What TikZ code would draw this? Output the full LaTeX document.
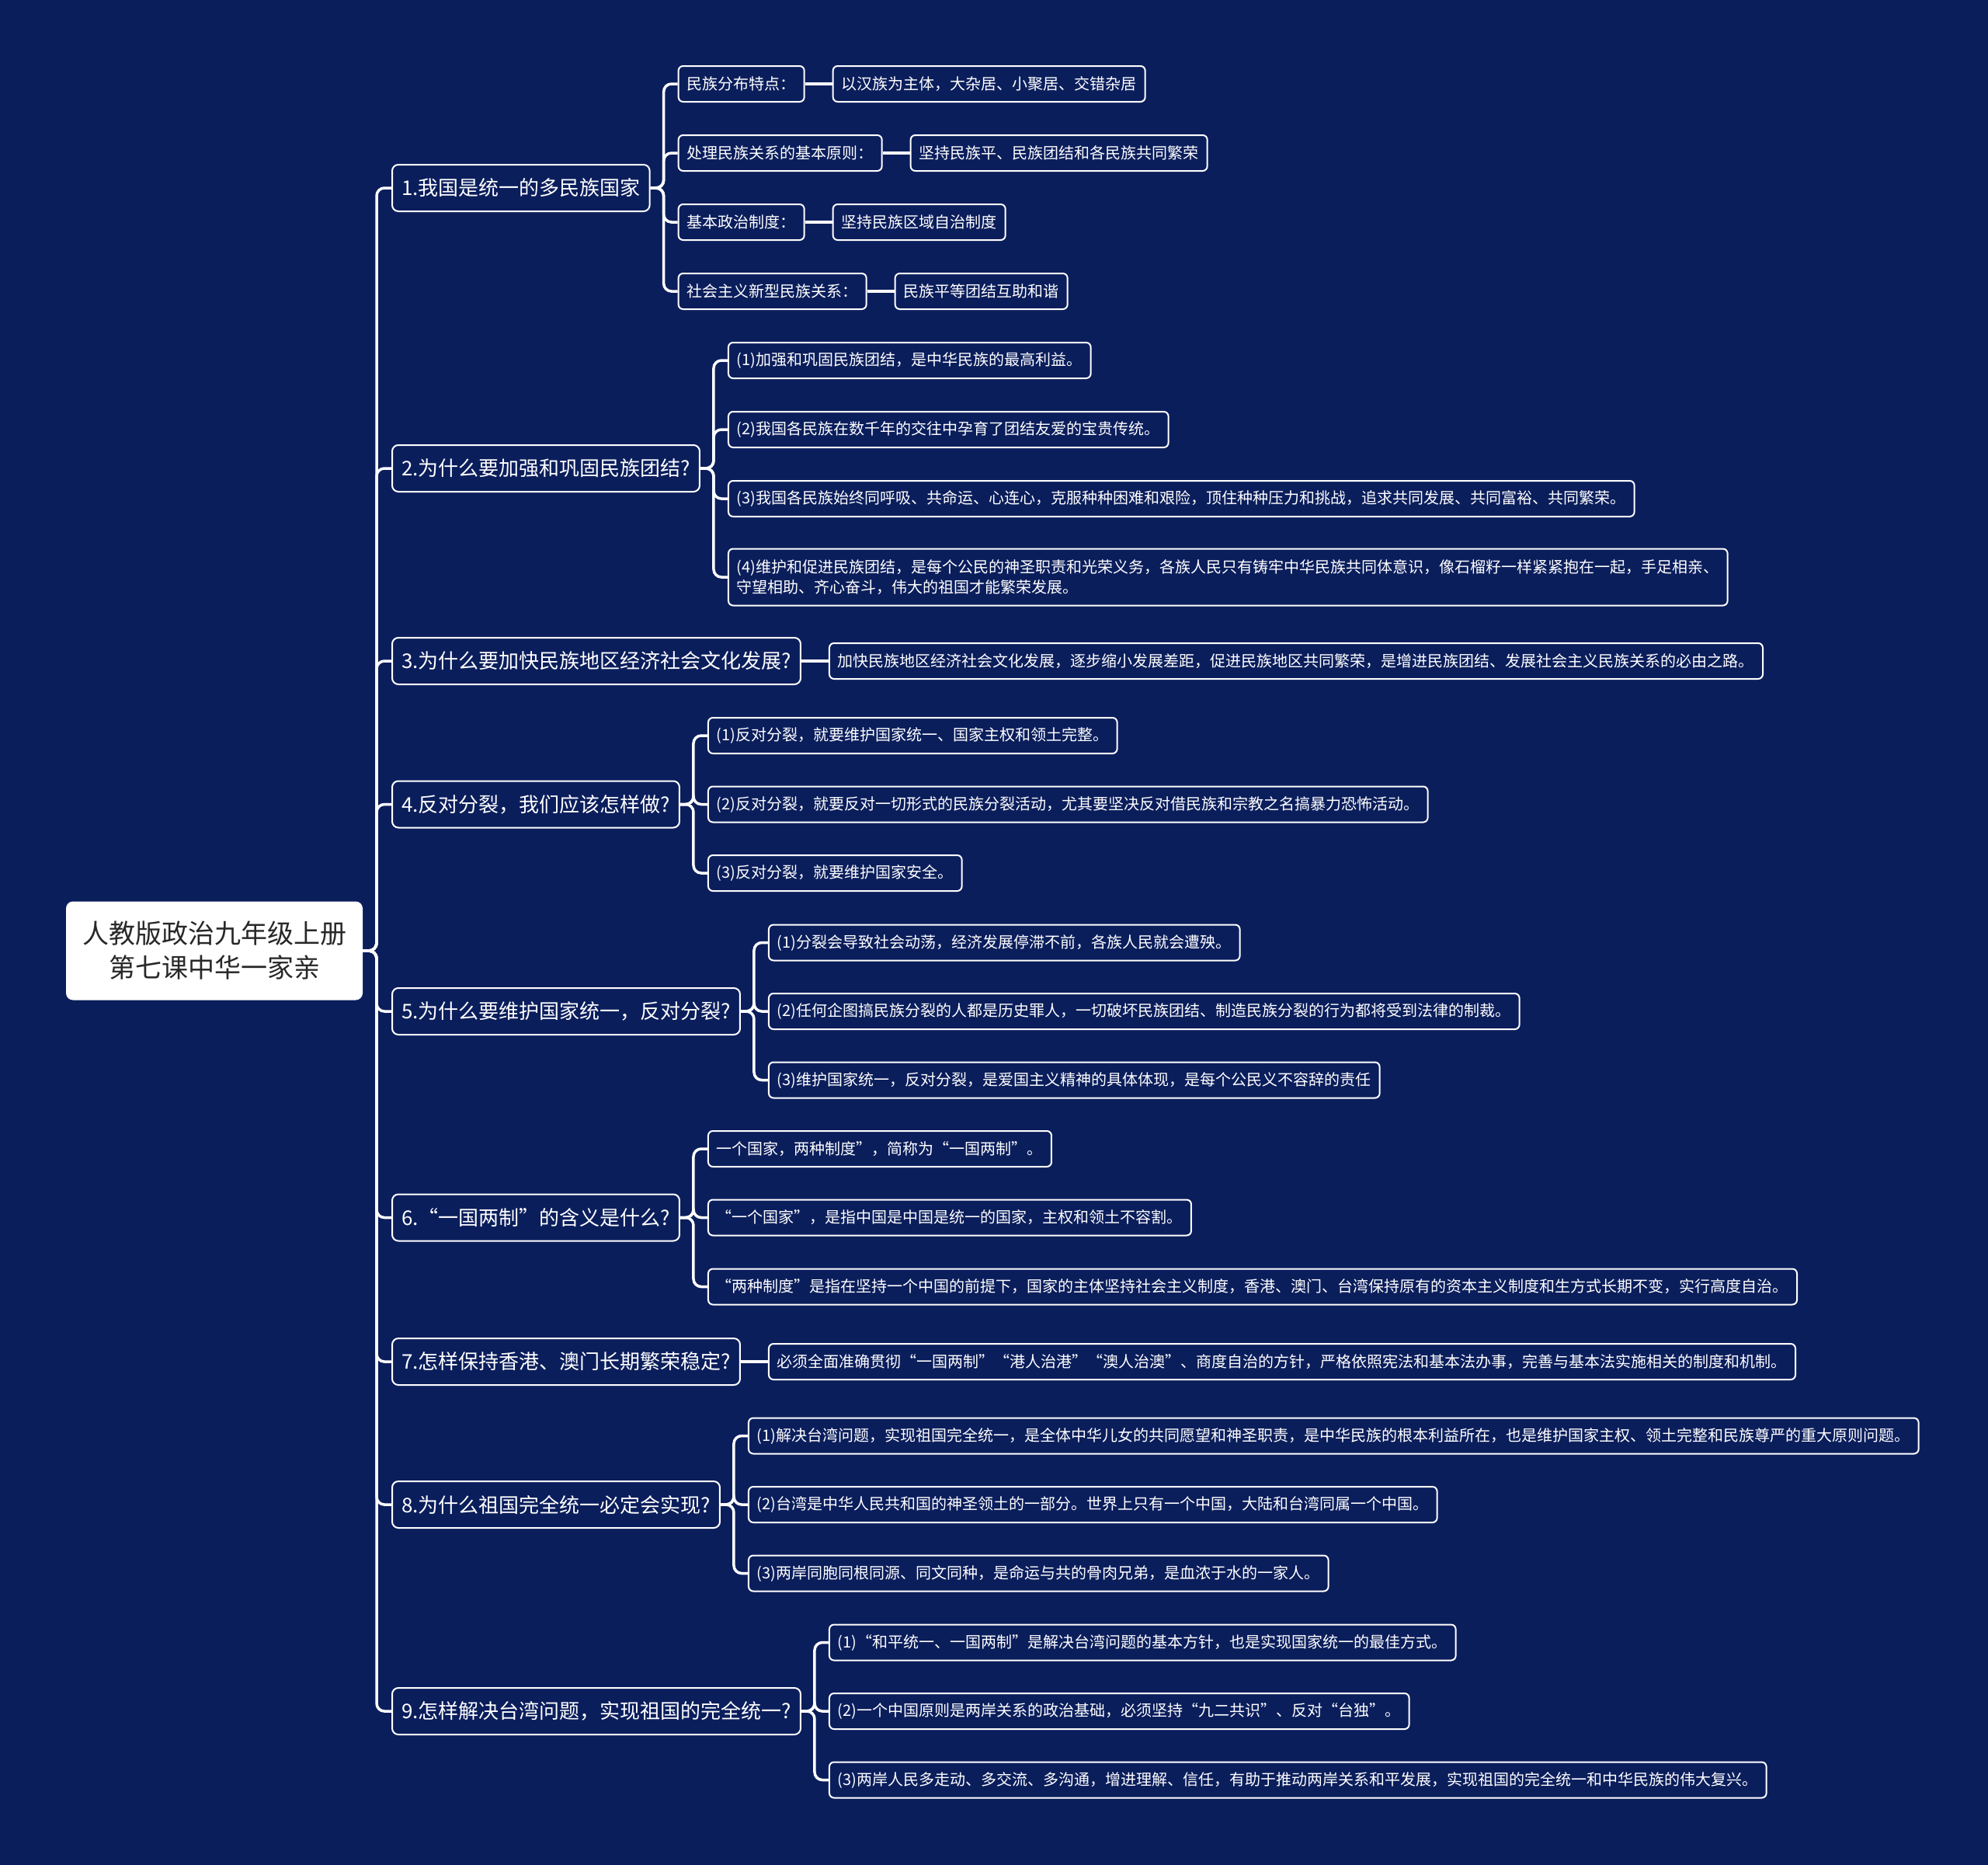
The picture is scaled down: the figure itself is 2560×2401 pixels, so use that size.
\documentclass[tikz,border=0pt]{standalone}
\usepackage{fontspec}
\setmainfont{Noto Sans CJK SC}
\usetikzlibrary{calc}
\definecolor{bg}{RGB}{11,30,92}
\definecolor{roottext}{RGB}{40,40,40}
\begin{document}
\begin{tikzpicture}[x=1pt,y=-1pt,
  conn/.style={draw=white,line width=3.5pt,rounded corners=10pt},
  rootbox/.style={fill=white,rounded corners=9pt,text=roottext,font=\fontsize{34pt}{44pt}\selectfont,align=center,minimum width=382pt,minimum height=127pt,inner sep=0pt},
  lone/.style={draw=white,line width=2pt,fill=bg,rounded corners=8pt,text=white,font=\fontsize{26pt}{31pt}\selectfont,inner xsep=12pt,inner ysep=0pt,minimum height=60pt,anchor=west},
  ltwo/.style={draw=white,line width=2pt,fill=bg,rounded corners=6pt,text=white,font=\fontsize{20pt}{26pt}\selectfont,inner xsep=11pt,inner ysep=0pt,minimum height=46pt,anchor=west},
]
\fill[bg] (0,0) rectangle (2560,2401);
\useasboundingbox (0,0) rectangle (2560,2401);

% root
\node[rootbox] (r) at (276,1224) {人教版政治九年级上册\\第七课中华一家亲};
\coordinate (trunk) at (485,1224);

% level 1
\node[lone] (a) at (504,242) {1.我国是统一的多民族国家};
\node[lone] (b) at (504,603) {2.为什么要加强和巩固民族团结?};
\node[lone] (c) at (504,851) {3.为什么要加快民族地区经济社会文化发展?};
\node[lone] (d) at (504,1035.5) {4.反对分裂，我们应该怎样做?};
\node[lone] (e) at (504,1302) {5.为什么要维护国家统一，反对分裂?};
\node[lone] (f) at (504,1567.5) {6.“一国两制”的含义是什么?};
\node[lone] (g) at (504,1753) {7.怎样保持香港、澳门长期繁荣稳定?};
\node[lone] (h) at (504,1937) {8.为什么祖国完全统一必定会实现?};
\node[lone] (i) at (504,2203) {9.怎样解决台湾问题，实现祖国的完全统一?};

\foreach \n in {a,b,c,d,e,f,g,h,i}
  \draw[conn] (r.east) -- (trunk) |- (\n.west);

% children of 1
\node[ltwo] (a1) at ($(a.east)+(35,-134)$) {民族分布特点：};
\node[ltwo] (a2) at ($(a.east)+(35,-45)$) {处理民族关系的基本原则：};
\node[ltwo] (a3) at ($(a.east)+(35,44)$) {基本政治制度：};
\node[ltwo] (a4) at ($(a.east)+(35,133)$) {社会主义新型民族关系：};
\node[ltwo] (a1x) at ($(a1.east)+(35,0)$) {以汉族为主体，大杂居、小聚居、交错杂居};
\node[ltwo] (a2x) at ($(a2.east)+(35,0)$) {坚持民族平、民族团结和各民族共同繁荣};
\node[ltwo] (a3x) at ($(a3.east)+(35,0)$) {坚持民族区域自治制度};
\node[ltwo] (a4x) at ($(a4.east)+(35,0)$) {民族平等团结互助和谐};
\foreach \n in {a1,a2,a3,a4} {
  \draw[conn] (a.east) -- ++(17,0) |- (\n.west);
  \draw[conn] (\n.east) -- (\n x.west);
}

% children of 2
\node[ltwo] (b1) at ($(b.east)+(35,-139)$) {(1)加强和巩固民族团结，是中华民族的最高利益。};
\node[ltwo] (b2) at ($(b.east)+(35,-50)$) {(2)我国各民族在数千年的交往中孕育了团结友爱的宝贵传统。};
\node[ltwo] (b3) at ($(b.east)+(35,39)$) {(3)我国各民族始终同呼吸、共命运、心连心，克服种种困难和艰险，顶住种种压力和挑战，追求共同发展、共同富裕、共同繁荣。};
\node[ltwo,align=left,minimum height=73pt] (b4) at ($(b.east)+(35,140)$) {(4)维护和促进民族团结，是每个公民的神圣职责和光荣义务，各族人民只有铸牢中华民族共同体意识，像石榴籽一样紧紧抱在一起，手足相亲、\\守望相助、齐心奋斗，伟大的祖国才能繁荣发展。};
\foreach \n in {b1,b2,b3,b4}
  \draw[conn] (b.east) -- ++(17,0) |- (\n.west);

% child of 3
\node[ltwo] (c1) at ($(c.east)+(35,0)$) {加快民族地区经济社会文化发展，逐步缩小发展差距，促进民族地区共同繁荣，是增进民族团结、发展社会主义民族关系的必由之路。};
\draw[conn] (c.east) -- (c1.west);

% children of 4
\node[ltwo] (d1) at ($(d.east)+(35,-88.5)$) {(1)反对分裂，就要维护国家统一、国家主权和领土完整。};
\node[ltwo] (d2) at ($(d.east)+(35,0)$) {(2)反对分裂，就要反对一切形式的民族分裂活动，尤其要坚决反对借民族和宗教之名搞暴力恐怖活动。};
\node[ltwo] (d3) at ($(d.east)+(35,88.5)$) {(3)反对分裂，就要维护国家安全。};
\foreach \n in {d1,d2,d3}
  \draw[conn] (d.east) -- ++(17,0) |- (\n.west);

% children of 5
\node[ltwo] (e1) at ($(e.east)+(35,-88.5)$) {(1)分裂会导致社会动荡，经济发展停滞不前，各族人民就会遭殃。};
\node[ltwo] (e2) at ($(e.east)+(35,0)$) {(2)任何企图搞民族分裂的人都是历史罪人，一切破坏民族团结、制造民族分裂的行为都将受到法律的制裁。};
\node[ltwo] (e3) at ($(e.east)+(35,88.5)$) {(3)维护国家统一，反对分裂，是爱国主义精神的具体体现，是每个公民义不容辞的责任};
\foreach \n in {e1,e2,e3}
  \draw[conn] (e.east) -- ++(17,0) |- (\n.west);

% children of 6
\node[ltwo] (f1) at ($(f.east)+(35,-88.5)$) {一个国家，两种制度”，简称为“一国两制”。};
\node[ltwo] (f2) at ($(f.east)+(35,0)$) {“一个国家”，是指中国是中国是统一的国家，主权和领土不容割。};
\node[ltwo] (f3) at ($(f.east)+(35,89)$) {“两种制度”是指在坚持一个中国的前提下，国家的主体坚持社会主义制度，香港、澳门、台湾保持原有的资本主义制度和生方式长期不变，实行高度自治。};
\foreach \n in {f1,f2,f3}
  \draw[conn] (f.east) -- ++(17,0) |- (\n.west);

% child of 7
\node[ltwo] (g1) at ($(g.east)+(35,0)$) {必须全面准确贯彻“一国两制”“港人治港”“澳人治澳”、商度自治的方针，严格依照宪法和基本法办事，完善与基本法实施相关的制度和机制。};
\draw[conn] (g.east) -- (g1.west);

% children of 8
\node[ltwo] (h1) at ($(h.east)+(35,-88.5)$) {(1)解决台湾问题，实现祖国完全统一，是全体中华儿女的共同愿望和神圣职责，是中华民族的根本利益所在，也是维护国家主权、领土完整和民族尊严的重大原则问题。};
\node[ltwo] (h2) at ($(h.east)+(35,0)$) {(2)台湾是中华人民共和国的神圣领土的一部分。世界上只有一个中国，大陆和台湾同属一个中国。};
\node[ltwo] (h3) at ($(h.east)+(35,88.5)$) {(3)两岸同胞同根同源、同文同种，是命运与共的骨肉兄弟，是血浓于水的一家人。};
\foreach \n in {h1,h2,h3}
  \draw[conn] (h.east) -- ++(17,0) |- (\n.west);

% children of 9
\node[ltwo] (i1) at ($(i.east)+(35,-88.5)$) {(1)“和平统一、一国两制”是解决台湾问题的基本方针，也是实现国家统一的最佳方式。};
\node[ltwo] (i2) at ($(i.east)+(35,0)$) {(2)一个中国原则是两岸关系的政治基础，必须坚持“九二共识”、反对“台独”。};
\node[ltwo] (i3) at ($(i.east)+(35,88.5)$) {(3)两岸人民多走动、多交流、多沟通，增进理解、信任，有助于推动两岸关系和平发展，实现祖国的完全统一和中华民族的伟大复兴。};
\foreach \n in {i1,i2,i3}
  \draw[conn] (i.east) -- ++(17,0) |- (\n.west);
\end{tikzpicture}
\end{document}
